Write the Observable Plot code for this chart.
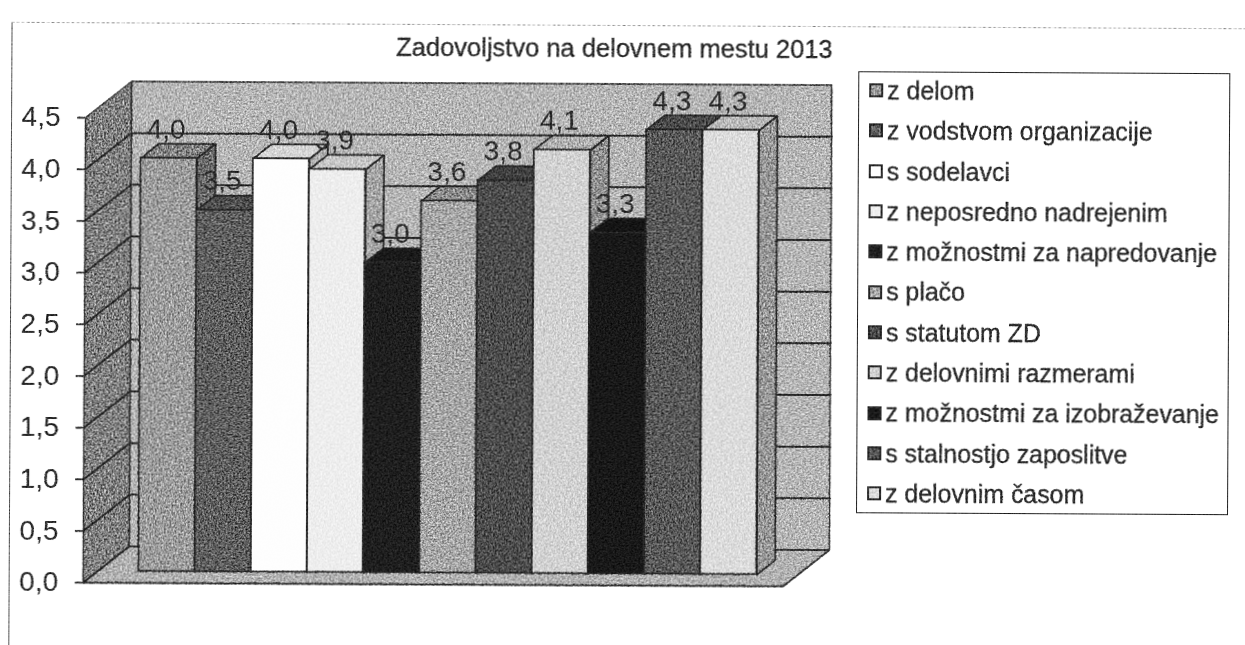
<!DOCTYPE html>
<html><head><meta charset="utf-8">
<script src="https://cdn.jsdelivr.net/npm/d3@7"></script>
<script src="https://cdn.jsdelivr.net/npm/@observablehq/plot@0.6"></script>
<style>
html,body{margin:0;padding:0;background:#fff;overflow:hidden}
#page{position:relative;width:1245px;height:645px;background:#fff;transform:rotate(0.3deg);transform-origin:622px 322px;filter:blur(0.5px);font-family:"Liberation Sans",Arial,sans-serif;color:#2a2a2a}
#frame{position:absolute;left:9.5px;top:25px;width:1300px;height:640px;border-left:1.6px solid #555;border-top:1.2px dashed #aaa;box-sizing:border-box}
#title{position:absolute;left:313px;width:600px;top:30px;text-align:center;font-size:25.5px;line-height:36px;font-weight:normal;margin:0;-webkit-text-stroke:0.3px #2a2a2a}
#chart{position:absolute;left:0;top:0}
#chart svg{color:#2a2a2a}
#chart svg text{-webkit-text-stroke:0.3px #2a2a2a}
#legend{position:absolute;left:857px;top:70px;width:372px;height:442px;border:1.6px solid #222;box-sizing:border-box;background:#fff}
#legend .rows{margin-top:-2px}
#legend .row{height:40.3px;line-height:40.3px;font-size:24.9px;white-space:nowrap;display:flex;align-items:center;-webkit-text-stroke:0.3px #2a2a2a}
#legend .sw{width:10px;height:10px;border:2.4px solid #2a2a2a;margin:0 4px 0 10px;flex:none}
#grain{position:absolute;left:0;top:0;mix-blend-mode:overlay;pointer-events:none}
</style></head>
<body>
<div id="page">
  <div id="frame"></div>
  <h1 id="title">Zadovoljstvo na delovnem mestu 2013</h1>
  <div id="chart"></div>
  <div id="legend"><div class="rows"></div></div>
  <svg id="grain" width="1245" height="645"><filter id="noise" x="0" y="0" width="100%" height="100%" color-interpolation-filters="sRGB"><feTurbulence type="fractalNoise" baseFrequency="0.55" numOctaves="3" seed="4"/><feColorMatrix type="matrix" values="1.3 0 0 0 -0.15  1.3 0 0 0 -0.15  1.3 0 0 0 -0.15  0 0 0 0 1"/></filter><rect width="1245" height="645" filter="url(#noise)"/></svg>
</div>
<script>
const categories = ["z delom","z vodstvom organizacije","s sodelavci","z neposredno nadrejenim","z možnostmi za napredovanje","s plačo","s statutom ZD","z delovnimi razmerami","z možnostmi za izobraževanje","s stalnostjo zaposlitve","z delovnim časom"];
const values = [4.0,3.5,4.0,3.9,3.0,3.6,3.8,4.1,3.3,4.3,4.3];
const shades = ["#9c9c9c","#5e5e5e","#fefefe","#eeeeee","#1e1e1e","#a6a6a6","#4c4c4c","#d2d2d2","#181818","#585858","#dcdcdc"];
const yTicks = [0,0.5,1,1.5,2,2.5,3,3.5,4,4.5];

const comma = v => v.toFixed(1).replace(".", ",");
const rows = categories.map((category,i)=>({category,i,next:i+1,value:values[i],color:shades[i],label:comma(values[i])}));

// oblique projection of the 3D look: depth expressed in scale units
const xMin=-0.73, xMax=11.73, yMax=4.5;
const DX=0.819, DY=0.3532, front=0.317, back=0.715;
const W=1245, H=645, mL=84, mR=461, mT=120, mB=60;
const pxX=(W-mL-mR)/(xMax-xMin), pxY=(H-mT-mB)/yMax;
const at=(x,y,d=0)=>({x:x+d*DX,y:y+d*DY});
const poly=(pts,o)=>Plot.line([...pts,pts[0]],{x:"x",y:"y",strokeLinejoin:"miter",...o});
const edge={stroke:"#262626",strokeWidth:1.8};

const marks=[];
marks.push(poly([at(xMin,0),at(xMin,0,1),at(xMin,yMax,1),at(xMin,yMax)],{fill:"#808080",stroke:"#333",strokeWidth:1.5}));
marks.push(poly([at(xMin,0,1),at(xMax,0,1),at(xMax,yMax,1),at(xMin,yMax,1)],{fill:"#b6b6b6",stroke:"#333",strokeWidth:1.6}));
marks.push(poly([at(xMin,0),at(xMax,0),at(xMax,0,1),at(xMin,0,1)],{fill:"#b2b2b2",stroke:"#333",strokeWidth:1.8}));
for(const t of yTicks.slice(1,-1)) marks.push(Plot.line([at(xMin,t),at(xMin,t,1),at(xMax,t,1)],{x:"x",y:"y",stroke:"#262626",strokeWidth:2}));
marks.push(Plot.line([at(xMin,0),at(xMin,0,1)],{x:"x",y:"y",stroke:"#262626",strokeWidth:1.8,strokeDasharray:"4 2"}));

for(const r of rows){
  const c=d3.rgb(r.color);
  marks.push(poly([at(r.next,0,front),at(r.next,0,back),at(r.next,r.value,back),at(r.next,r.value,front)],{fill:c.darker(1.05).formatHex(),...edge}));
  marks.push(poly([at(r.i,r.value,front),at(r.next,r.value,front),at(r.next,r.value,back),at(r.i,r.value,back)],{fill:c.darker(0.5).formatHex(),...edge}));
  marks.push(Plot.rectY([r],{x1:"i",x2:"next",y:"value",fill:"color",...edge,dx:front*DX*pxX,dy:-front*DY*pxY}));
}
marks.push(Plot.text(rows,{x:d=>d.i+0.5,y:"value",text:"label",fontSize:28,fill:"#2a2a2a",lineAnchor:"bottom",dx:front*DX*pxX-3,dy:-front*DY*pxY-20}));
marks.push(Plot.axisY({ticks:yTicks,tickFormat:comma,tickSize:8,tickPadding:17,fontSize:28,strokeWidth:1.8,label:null}));

const plot=Plot.plot({width:W,height:H,marginLeft:mL,marginRight:mR,marginTop:mT,marginBottom:mB,
  style:{background:"transparent",fontFamily:"'Liberation Sans',Arial,sans-serif"},
  x:{domain:[xMin,xMax],axis:null},
  y:{domain:[0,yMax],axis:null},
  color:{type:"identity"},
  marks});
document.getElementById("chart").append(plot);

const legendRows=document.querySelector("#legend .rows");
rows.forEach(r=>{
  const row=document.createElement("div");row.className="row";
  const sw=document.createElement("span");sw.className="sw";sw.style.background=r.color;
  const tx=document.createElement("span");tx.textContent=r.category;
  row.append(sw,tx);legendRows.append(row);
});
</script>
</body></html>
